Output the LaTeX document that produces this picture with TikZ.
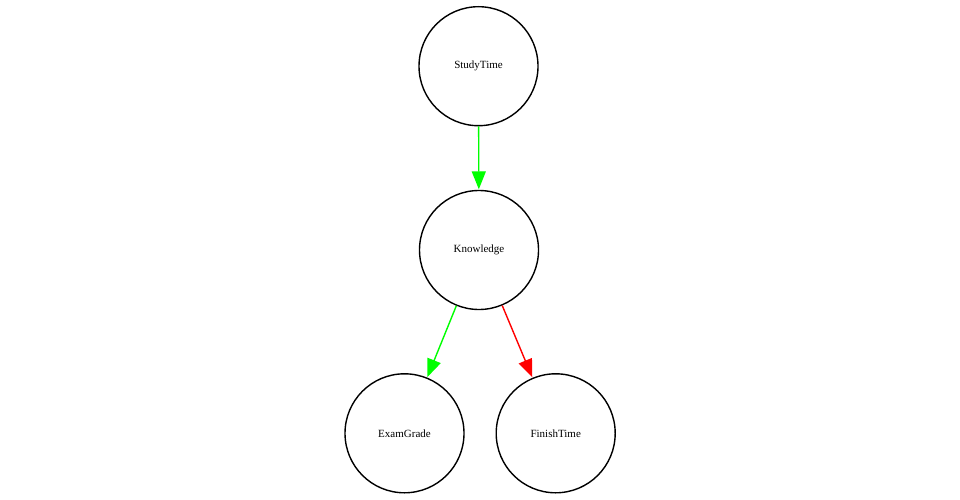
\documentclass[tikz,border=0pt]{standalone}
\usepackage{fontspec}
\setmainfont{Liberation Serif}
\usetikzlibrary{arrows.meta}
\definecolor{edgegreen}{RGB}{0,255,0}
\definecolor{edgered}{RGB}{255,0,0}
\begin{document}
\begin{tikzpicture}[x=1pt,y=-1pt,
  varnode/.style={circle,draw=black,line width=1.4pt,minimum size=119pt,inner sep=0pt,
    font=\fontsize{11}{13}\selectfont},
  edge/.style={line width=1.4pt,-{Triangle[length=18pt,width=14pt]},shorten >=0.5pt}]
\useasboundingbox (0,0) rectangle (960,500);
\node[varnode] (study) at (478.5,66.2) {StudyTime};
\node[varnode] (know) at (479,250) {Knowledge};
\node[varnode] (exam) at (404.5,433.3) {ExamGrade};
\node[varnode] (finish) at (555.7,433.3) {FinishTime};
\draw[edge,draw=edgegreen,fill=edgegreen] (study) -- (know);
\draw[edge,draw=edgegreen,fill=edgegreen] (know) -- (exam);
\draw[edge,draw=edgered,fill=edgered] (know) -- (finish);
\end{tikzpicture}
\end{document}
